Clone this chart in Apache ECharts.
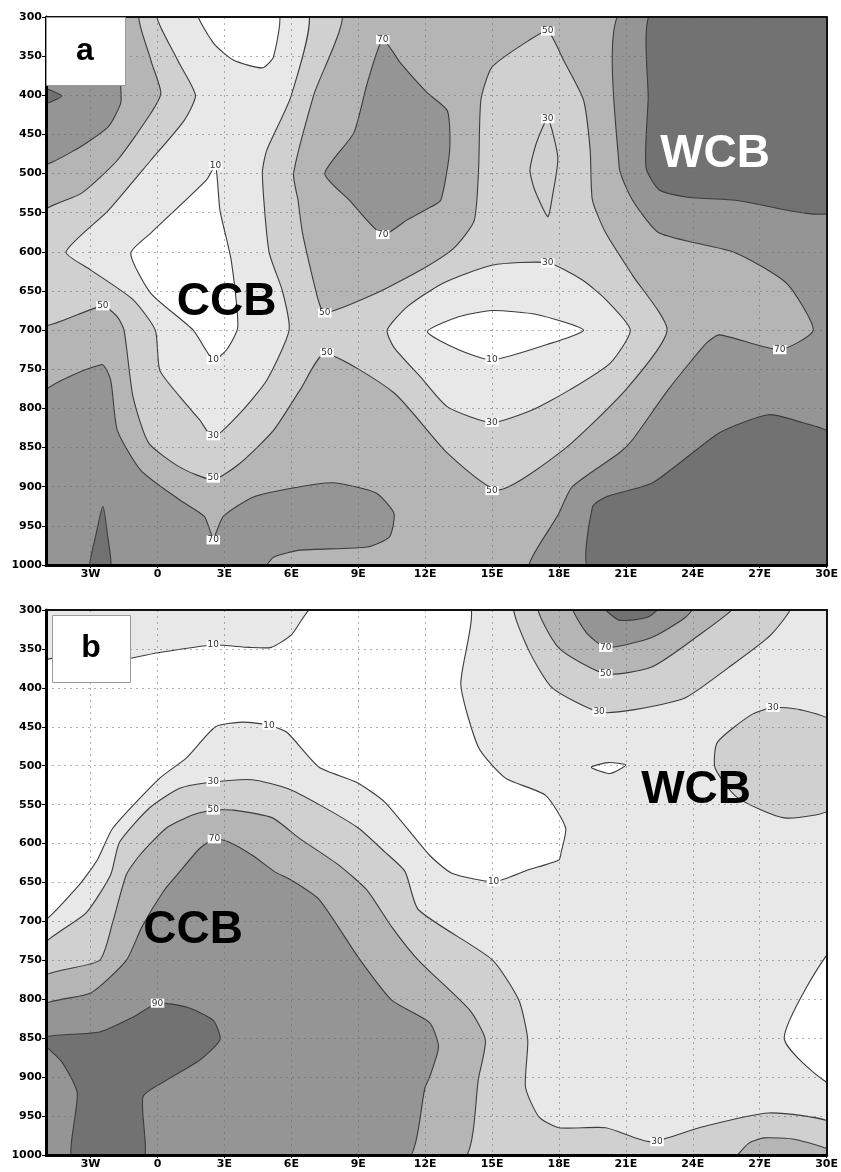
<!DOCTYPE html>
<html>
<head>
<meta charset="utf-8">
<script src="https://cdn.jsdelivr.net/npm/echarts@6/dist/echarts.min.js"></script>
<style>
  html, body { margin: 0; padding: 0; background: #fff; }
  #chart { width: 841px; height: 1172px; }
</style>
</head>
<body>
<div id="chart"></div>
<script>
// contour fill levels: 0 <10, 1 10-30, 2 30-50, 3 50-70, 4 70-90, 5 >90
var lonTicks = [-3, 0, 3, 6, 9, 12, 15, 18, 21, 24, 27, 30]

// ---- panel a : regions as [lon, hPa] outlines ----
var aTopLeft70 = [[-5,300],[-1.7,300],[-1.65,389],[-1.65,410],[-2.2,440],[-3.7,470],[-5,488]]
var aLeft90 = [[-5,390],[-4.3,401],[-5,412]]
var aMid70 = [[10.1,329],[10.9,359],[12.1,397],[13.0,420],[13.1,470],[12.7,534],[12.1,545],[11.2,559],[10.1,578],[8.6,534],[7.5,500],[8.8,448],[9.4,385]]
var aRight70 = [[20.8,300],[20.7,492],[21.3,534],[22.5,576],[25.9,601],[28.2,640],[29.4,700],[27.9,725],[25.2,706],[24.6,717],[22.9,776],[21.3,840],[20.7,857],[18.6,900],[18.0,934],[16.7,1000],[30,1000],[30,300]]
var aBottom70 = [[-5,785],[-2.5,744],[-2.1,764],[-1.8,828],[-0.75,879],[1.0,917],[2.1,938],[2.5,965],[2.95,938],[4.3,913],[6.4,900],[7.9,895],[9.8,908],[10.6,934],[10.4,964],[9.4,977],[6.4,981],[5.2,990],[4.6,1000],[-5,1000]]
var aSpike90 = [[-3.05,1000],[-2.75,960],[-2.45,925],[-2.25,960],[-2.1,1000]]
var aTopRight90 = [[22.2,300],[22.0,406],[21.9,492],[22.5,521],[23.7,530],[25.9,534],[30,547],[30,300]]
var aBottomRight90 = [[19.4,1000],[19.5,926],[20.1,913],[22.2,895],[25.2,831],[27.4,808],[28.9,818],[30,834],[30,1000]]
var aBelow50 = [[-0.75,300],[8.2,300],[7.0,400],[6.1,500],[6.3,534],[6.5,576],[7.2,661],[7.5,678],[9.8,653],[12.0,620],[13.3,595],[14.2,560],[14.4,492],[14.5,406],[15.0,364],[16.7,329],[17.5,318],[18.2,355],[19.1,406],[19.4,470],[19.5,534],[20.1,576],[21.3,630],[22.85,700],[21.0,776],[18.2,853],[15.3,904],[13.0,857],[10.6,780],[7.5,730],[6.4,776],[5.2,828],[3.7,870],[2.5,891],[1.0,875],[-0.4,844],[-1.1,785],[-1.5,700],[-1.8,683],[-2.45,669],[-5,693],[-5,552],[-3.4,525],[-1.8,483],[-0.3,423],[0.15,397],[-0.3,355]]
var aLeft30 = [[0,300],[6.7,300],[6.0,400],[4.9,470],[4.7,500],[5.0,600],[5.6,650],[5.9,700],[4.9,764],[3.7,806],[2.5,837],[1.9,815],[1.0,785],[0.1,751],[-0.1,700],[-1.1,661],[-3.0,623],[-4.1,600],[-2.2,547],[-0.3,483],[1.2,432],[1.7,400],[0.9,355]]
var aCentre30 = [[10.3,700],[11.2,670],[12.8,640],[15,617],[17.5,614],[19.05,636],[20.1,661],[21.2,700],[20.3,742],[18.5,776],[16.8,802],[15,818],[13,798],[11.8,760],[10.6,722]]
var aLens30 = [[17.5,430],[17.95,480],[17.7,530],[17.5,555],[16.9,520],[16.7,495],[17.0,460]]
var aTop10 = [[1.8,300],[2.5,333],[3.4,355],[4.7,365],[5.2,351],[5.4,300]]
var aCcb10 = [[2.6,490],[2.8,547],[3.3,610],[3.6,696],[3.1,725],[2.5,738],[1.6,700],[-0.3,653],[-1.2,602],[-0.3,576],[2.2,508]]
var aCentre10 = [[12.1,702],[13.5,683],[15,675],[17,680],[19.1,700],[17.5,718],[15,738],[13.5,725]]

var aRegions = [
  [4, aTopLeft70], [4, aMid70], [4, aRight70], [4, aBottom70],
  [5, aLeft90], [5, aSpike90], [5, aTopRight90], [5, aBottomRight90],
  [2, aBelow50], [1, aLeft30], [1, aCentre30], [2, aLens30],
  [0, aTop10], [0, aCcb10], [0, aCentre10]
]
var aLabels = [[2.6,490,'10'],[-2.45,669,'50'],[7.5,678,'50'],[10.1,329,'70'],[10.1,578,'70'],[7.6,729,'50'],[2.5,738,'10'],[2.5,835,'30'],[2.5,889,'50'],[2.5,968,'70'],[17.5,318,'50'],[17.5,430,'30'],[17.5,614,'30'],[15,738,'10'],[15,818,'30'],[15,905,'50'],[27.9,725,'70']]

// ---- panel b ----
var bTopLeft10 = [[-5,300],[7.1,300],[6.0,332],[5.1,348],[4.1,348],[2.5,345],[0,355],[-1.25,362],[-5,370]]
var bWhite = [[-5,370],[-1.25,362],[0,355],[2.5,345],[4.1,348],[5.1,348],[6.0,332],[7.1,300],[13.95,300],[13.6,396],[14.4,477],[15.6,516],[17.4,538],[18.3,580],[18.1,611],[18.0,621],[16.6,634],[15.1,649],[13.2,638],[12.2,615],[10.2,547],[8.9,521],[7.25,502],[5.8,457],[5.0,448],[3.8,444],[2.6,450],[1.3,490],[0.1,516],[-2.0,580],[-2.7,621],[-3.6,656],[-5,700]]
var bLens10 = [[19.45,502],[20.2,496],[21.0,499],[20.3,510]]
var bEdge10 = [[30,737],[28.1,850],[30,908]]
var bCcb30 = [[-5,737],[-3.2,689],[-2.1,640],[-1.7,598],[-0.35,554],[1.0,529],[2.5,521],[4.25,518],[5.8,529],[7.25,550],[9.0,580],[10.2,611],[11.1,636],[11.7,685],[15.0,749],[16.2,801],[16.6,852],[16.5,913],[17.1,951],[18.0,965],[20.1,965],[22.1,983],[24.4,964],[27.4,946],[30,959],[30,1000],[-5,1000]]
var bCcb50 = [[-5,775],[-2.6,750],[-2.0,700],[-1.4,640],[-0.8,615],[0.4,580],[1.6,563],[2.5,557],[3.4,557],[5.15,567],[6.35,593],[8.1,627],[9.4,660],[10.5,707],[11.7,750],[14.0,814],[14.7,852],[14.4,900],[13.6,1000],[-5,1000]]
var bCcb70 = [[-5,811],[-3.0,792],[-1.4,750],[-0.7,707],[0.3,660],[1.0,636],[1.9,606],[2.55,594],[3.2,598],[4.25,615],[5.3,637],[6.0,647],[7.25,672],[9.0,746],[10.5,801],[12.2,830],[12.6,861],[12.2,900],[12.0,913],[11.1,1000],[-5,1000]]
var bCcb90 = [[-5,850],[-2.6,842],[-1.1,823],[0,805],[1.3,810],[2.5,827],[2.8,852],[1.9,878],[0.4,904],[-0.65,925],[-0.65,1000],[-3.8,1000],[-3.6,920],[-4.3,880]]
var bTop30 = [[16.05,300],[16.6,349],[17.7,400],[19.8,431],[21.4,428],[23.65,413],[25.6,374],[27.5,332],[28.4,300]]
var bTop50 = [[17.1,300],[18.0,349],[20.1,382],[22.1,374],[24.1,336],[25.9,300]]
var bTop70 = [[18.6,300],[19.2,328],[20.1,348],[22.1,336],[23.65,310],[24.1,300]]
var bTop90 = [[19.9,300],[20.7,313],[22.0,309],[22.6,300]]
var bBump30 = [[30,444],[28.8,428],[27.6,425],[26.6,435],[25.1,470],[25.0,503],[26.0,541],[28.1,567],[30,554]]
var bCorner50 = [[25.9,1000],[26.5,985],[27.2,978],[28.6,980],[30,995],[30,1000]]

var bRegions = [
  [0, bWhite], [0, bLens10], [0, bEdge10],
  [2, bCcb30], [3, bCcb50], [4, bCcb70], [5, bCcb90],
  [2, bTop30], [3, bTop50], [4, bTop70], [5, bTop90],
  [2, bBump30], [3, bCorner50]
]
var bLabels = [[2.5,345,'10'],[5.0,448,'10'],[2.5,521,'30'],[2.5,557,'50'],[2.55,594,'70'],[0,805,'90'],[15.07,649,'10'],[20.1,348,'70'],[20.1,382,'50'],[19.8,431,'30'],[27.6,425,'30'],[22.4,983,'30']]

var aTags = [[3.1,665,'CCB','#000'],[25.0,476,'WCB','#fff']]
var bTags = [[1.6,711,'CCB','#000'],[24.15,531,'WCB','#000']]

var levelColors = ['#ffffff', '#e8e8e8', '#d0d0d0', '#b5b5b5', '#959595', '#727272']
var baseLevel = [3, 1]

var chartDom = document.getElementById('chart')
var chart = echarts.init(chartDom)

var tickFont = {
  color: '#000', fontSize: 11, fontWeight: 'bold', fontFamily: 'DejaVu Sans'
}
var gridDots = { color: 'rgba(110,110,110,0.55)', type: [2, 4], width: 1 }

function lonFmt(v) {
  if (v < 0) return (-v) + 'W'
  if (v === 0) return '0'
  return v + 'E'
}

function buildAxes(g) {
  var xs = [
    {
      type: 'value', gridIndex: g, min: -5, max: 30, position: 'bottom', z: 5,
      axisLine: { show: true, onZero: false, lineStyle: { color: '#000', width: 3 } },
      axisTick: { show: true, customValues: lonTicks, length: 3, lineStyle: { color: '#000' } },
      axisLabel: Object.assign({ customValues: lonTicks, formatter: lonFmt, margin: 4 }, tickFont),
      splitLine: { show: true, lineStyle: gridDots }
    },
    {
      type: 'value', gridIndex: g, min: -5, max: 30, position: 'top', z: 5,
      axisLine: { show: true, onZero: false, lineStyle: { color: '#111', width: 2 } },
      axisTick: { show: false }, axisLabel: { show: false }, splitLine: { show: false }
    }
  ]
  var ys = [
    {
      type: 'value', gridIndex: g, min: 300, max: 1000, interval: 50, inverse: true, position: 'left', z: 5,
      axisLine: { show: true, onZero: false, lineStyle: { color: '#000', width: 3 } },
      axisTick: { show: true, length: 4, lineStyle: { color: '#000' } },
      axisLabel: Object.assign({ margin: 4, formatter: function (v) { return String(v) } }, tickFont),
      splitLine: { show: true, lineStyle: gridDots }
    },
    {
      type: 'value', gridIndex: g, min: 300, max: 1000, inverse: true, position: 'right', z: 5,
      axisLine: { show: true, onZero: false, lineStyle: { color: '#111', width: 2 } },
      axisTick: { show: false }, axisLabel: { show: false }, splitLine: { show: false }
    }
  ]
  return { xs: xs, ys: ys }
}

// filled contour bands (painted in order)
function bandSeries(axisIdx, regions, base) {
  var list = [[base, [[-5,300],[30,300],[30,1000],[-5,1000]], true]].concat(regions)
  return {
    type: 'custom', xAxisIndex: axisIdx, yAxisIndex: axisIdx, clip: true, silent: true, z: 2,
    data: list.map(function (r, i) { return [i] }),
    renderItem: function (params, api) {
      var r = list[params.dataIndex]
      var pts = r[1].map(function (p) {
        var c = api.coord(p)
        if (p[0] <= -5) c[0] -= 6
        if (p[0] >= 30) c[0] += 6
        if (p[1] <= 300) c[1] -= 6
        if (p[1] >= 1000) c[1] += 6
        return c
      })
      return {
        type: 'polygon',
        shape: { points: pts, smooth: r[2] ? 0 : 0.2 },
        style: { fill: levelColors[r[0]], stroke: r[2] ? null : '#3c3c3c', lineWidth: 1.1 }
      }
    }
  }
}

function labelSeries(axisIdx, labels) {
  return {
    type: 'scatter', xAxisIndex: axisIdx, yAxisIndex: axisIdx, silent: true, z: 20,
    symbolSize: 0, data: labels,
    itemStyle: { opacity: 1 },
    label: {
      show: true, position: 'inside', formatter: function (p) { return p.data[2] },
      fontSize: 9, color: '#333', fontFamily: 'DejaVu Sans', opacity: 1,
      backgroundColor: '#fff', padding: [0, 1]
    }
  }
}

function tagSeries(axisIdx, tags) {
  return {
    type: 'scatter', xAxisIndex: axisIdx, yAxisIndex: axisIdx, silent: true, z: 21,
    symbolSize: 0,
    itemStyle: { opacity: 1 },
    data: tags.map(function (t) {
      return { value: [t[0], t[1]], name: t[2], label: { color: t[3] } }
    }),
    label: {
      show: true, position: 'inside', formatter: '{b}', opacity: 1,
      fontSize: 46, fontWeight: 'bold', fontFamily: 'Liberation Sans'
    }
  }
}

var axA = buildAxes(0)
var axB = buildAxes(1)

var option = {
  animation: false,
  grid: [
    { left: 46, top: 17, width: 783, height: 548 },
    { left: 46, top: 610, width: 783, height: 545 }
  ],
  // axes: 0 bottom/left a, 1 top/right a, 2 bottom/left b, 3 top/right b
  xAxis: axA.xs.concat(axB.xs),
  yAxis: axA.ys.concat(axB.ys),
  series: [
    bandSeries(0, aRegions, baseLevel[0]),
    labelSeries(0, aLabels),
    tagSeries(0, aTags),
    bandSeries(2, bRegions, baseLevel[1]),
    labelSeries(2, bLabels),
    tagSeries(2, bTags)
  ],
  graphic: [
    { type: 'rect', z: 30, shape: { x: 46.5, y: 17.5, width: 79, height: 68 }, style: { fill: '#fff', stroke: '#9a9a9a', lineWidth: 1 } },
    { type: 'text', z: 31, x: 85, y: 51, style: { text: 'a', fill: '#000', font: 'bold 32px "Liberation Sans"', align: 'center', verticalAlign: 'middle' } },
    { type: 'rect', z: 30, shape: { x: 52.5, y: 615.5, width: 78, height: 67 }, style: { fill: '#fff', stroke: '#9a9a9a', lineWidth: 1 } },
    { type: 'text', z: 31, x: 91, y: 648, style: { text: 'b', fill: '#000', font: 'bold 32px "Liberation Sans"', align: 'center', verticalAlign: 'middle' } }
  ]
}

chart.setOption(option)
</script>
</body>
</html>
